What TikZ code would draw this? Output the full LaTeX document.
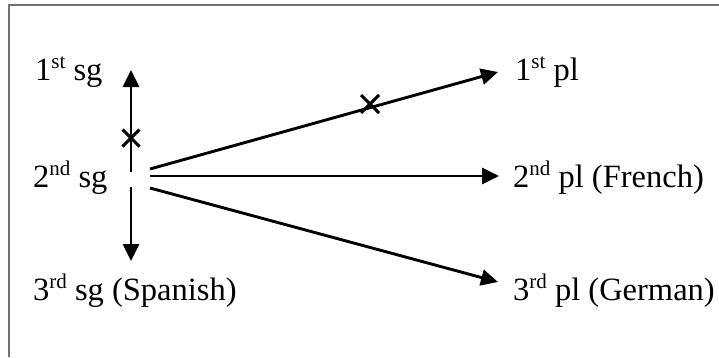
\documentclass[tikz,border=0pt]{standalone}
\usepackage{fontspec}
\setmainfont{Liberation Serif}
\usetikzlibrary{arrows.meta}
\newcommand{\mysup}[1]{\raisebox{0.36em}{\fontsize{21}{21}\selectfont #1}}
\tikzset{
  lbl/.style={anchor=base west, inner sep=0pt, font=\fontsize{32.5}{38}\selectfont},
  arr/.style={line width=2.9pt, -{Triangle[length=17pt,width=16pt]}},
  xmark/.style={line width=2.9pt},
  frame/.style={line width=1.5pt, draw=black!55}
}
\begin{document}
\begin{tikzpicture}[x=1pt,y=-1pt]
\useasboundingbox (0,0) rectangle (719,357);
\draw[frame] (9,357) -- (9,5) -- (719,5);
% labels
\node[lbl] (s1) at (35,80) {1\mysup{st} sg};
\node[lbl] (s2) at (33,187) {2\mysup{nd} sg};
\node[lbl] (s3) at (33,300) {3\mysup{rd} sg (Spanish)};
\node[lbl] (p1) at (515,80) {1\mysup{st} pl};
\node[lbl] (p2) at (513,187) {2\mysup{nd} pl (French)};
\node[lbl] (p3) at (513,300) {3\mysup{rd} pl (German)};
% coordinates
\coordinate (vu0) at (131,172);
\coordinate (vu1) at (131,70);
\coordinate (vd0) at (131,187);
\coordinate (vd1) at (131,261);
\coordinate (h1s) at (150,169);
\coordinate (h1e) at (498,72);
\coordinate (h2s) at (150,176);
\coordinate (h2e) at (499,176);
\coordinate (h3s) at (150,188);
\coordinate (h3e) at (498,282);
\coordinate (x1) at (131,138);
\coordinate (x2) at (370,104);
% arrows
\draw[arr] (vu0) -- (vu1);
\draw[arr] (vd0) -- (vd1);
\draw[arr] (h1s) -- (h1e);
\draw[arr] (h2s) -- (h2e);
\draw[arr] (h3s) -- (h3e);
% crosses
\draw[xmark] ([shift={(-8.5,-8.5)}]x1) -- ([shift={(8.5,8.5)}]x1)
             ([shift={(-8.5,8.5)}]x1) -- ([shift={(8.5,-8.5)}]x1);
\draw[xmark] ([shift={(-9,-9)}]x2) -- ([shift={(9,9)}]x2)
             ([shift={(-9,9)}]x2) -- ([shift={(9,-9)}]x2);
\end{tikzpicture}
\end{document}
